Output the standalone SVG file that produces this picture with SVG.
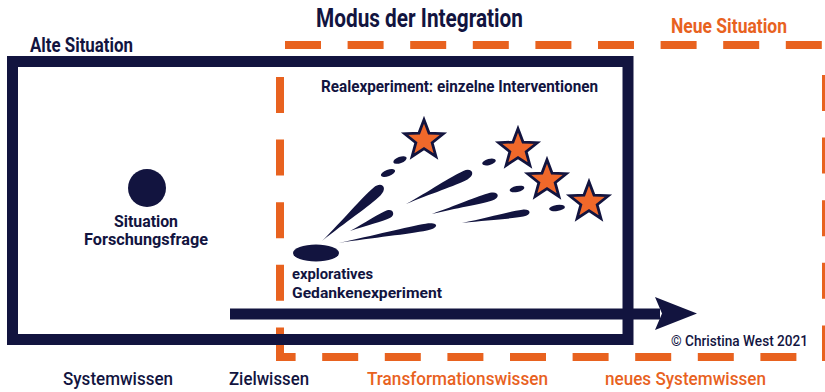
<svg xmlns="http://www.w3.org/2000/svg" width="825" height="392" viewBox="0 0 825 392">
  <style>
    .t { font-family: Roboto, "Liberation Sans", "DejaVu Sans", sans-serif; fill: #12143f; }
    .b { font-weight: 700; }
    .m { font-weight: 500; }
    .o { fill: #e8621f; }
    .dash { stroke: #e8621f; stroke-width: 8; fill: none; stroke-dasharray: 36 26.6; }
    .navy { fill: #12143f; }
    .star { fill: #f0682a; stroke: #12143f; stroke-width: 2.6; stroke-linejoin: miter; }
  </style>
  <defs>
    <path id="starShape" d="M0,-19 L4.7,-6.47 L18.07,-5.87 L7.61,2.47 L11.17,15.37 L0,8 L-11.17,15.37 L-7.61,2.47 L-18.07,-5.87 L-4.7,-6.47 Z"/>
    <path id="streak" d="M0,0 C35,-1.5 70,-5.5 88,-5 C101,-4.5 101,4.5 88,5 C70,5.5 35,1.5 0,0 Z"/>
  </defs>
  <rect width="825" height="392" fill="#ffffff"/>

  <g id="neue-situation-frame">
    <line class="dash" x1="285" y1="45" x2="830" y2="45"/>
    <line class="dash" x1="280" y1="77" x2="280" y2="361"/>
    <line class="dash" x1="276" y1="357" x2="830" y2="357" stroke-dashoffset="16.4"/>
    <line class="dash" x1="826" y1="75" x2="826" y2="361"/>
  </g>

  <g id="alte-situation-frame">
    <rect x="12.5" y="61.5" width="615.5" height="278" fill="none" stroke="#12143f" stroke-width="11"/>
  </g>

  <g id="connectors">
    <rect class="navy" x="230" y="308.5" width="430" height="11"/>
    <path class="navy" d="M655,297 L697,313.5 L655,330 L662,313.5 Z"/>
  </g>

  <g id="situation">
    <circle class="navy" cx="147" cy="188" r="19"/>
    <text class="t b" x="114" y="227" font-size="16.5" textLength="64" lengthAdjust="spacingAndGlyphs">Situation</text>
    <text class="t b" x="84" y="245" font-size="16.5" textLength="124" lengthAdjust="spacingAndGlyphs">Forschungsfrage</text>
  </g>

  <g id="gedankenexperiment">
    <ellipse class="navy" cx="316" cy="253" rx="23" ry="8.5"/>
    <text class="t b" x="292" y="279" font-size="15.5" textLength="81" lengthAdjust="spacingAndGlyphs">exploratives</text>
    <text class="t b" x="292" y="298" font-size="15.5" textLength="150" lengthAdjust="spacingAndGlyphs">Gedankenexperiment</text>
  </g>

  <g id="streaks" class="navy">
    <use href="#streak" transform="translate(322,241) rotate(-42) scale(0.84,1.05)"/>
    <use href="#streak" transform="translate(350,231) rotate(-23.7) scale(0.48,0.8)"/>
    <use href="#streak" transform="translate(338,243) rotate(-10.2) scale(1.02,0.7)"/>
    <use href="#streak" transform="translate(406,204) rotate(-25.9) scale(0.75,0.95)"/>
    <use href="#streak" transform="translate(432,214) rotate(-16.3) scale(0.7,0.8)"/>
    <use href="#streak" transform="translate(462,223) rotate(-9.2) scale(0.7,0.7)"/>
    <ellipse cx="388" cy="173" rx="7.5" ry="3.2" transform="rotate(-20 388 173)"/>
    <ellipse cx="400" cy="160" rx="7" ry="3.2" transform="rotate(-20 400 160)"/>
    <ellipse cx="489" cy="162" rx="7" ry="3" transform="rotate(-15 489 162)"/>
    <ellipse cx="517" cy="189" rx="7.5" ry="3" transform="rotate(-12 517 189)"/>
    <ellipse cx="557" cy="208" rx="8" ry="3" transform="rotate(-8 557 208)"/>
  </g>

  <g id="stars">
    <use href="#starShape" class="star" transform="translate(424,140) scale(1.07)"/>
    <use href="#starShape" class="star" transform="translate(518,149) scale(1.07)"/>
    <use href="#starShape" class="star" transform="translate(547,180) scale(1.07)"/>
    <use href="#starShape" class="star" transform="translate(589,202) scale(1.07)"/>
  </g>

  <g id="labels">
    <text class="t b" x="316" y="27" font-size="25" textLength="207" lengthAdjust="spacingAndGlyphs">Modus der Integration</text>
    <text class="t b" x="30" y="52" font-size="20.5" textLength="103" lengthAdjust="spacingAndGlyphs">Alte Situation</text>
    <text class="t b o" x="671" y="33" font-size="20.5" textLength="116" lengthAdjust="spacingAndGlyphs">Neue Situation</text>
    <text class="t b" x="321" y="92" font-size="16" textLength="277" lengthAdjust="spacingAndGlyphs">Realexperiment: einzelne Interventionen</text>
    <text class="t m" x="671" y="346" font-size="15" textLength="137" lengthAdjust="spacingAndGlyphs">© Christina West 2021</text>
    <text class="t m" x="63" y="385" font-size="18.5" textLength="110" lengthAdjust="spacingAndGlyphs">Systemwissen</text>
    <text class="t m" x="229" y="385" font-size="18.5" textLength="80" lengthAdjust="spacingAndGlyphs">Zielwissen</text>
    <text class="t m o" x="367" y="385" font-size="18.5" textLength="181" lengthAdjust="spacingAndGlyphs">Transformationswissen</text>
    <text class="t m o" x="605" y="385" font-size="18.5" textLength="161" lengthAdjust="spacingAndGlyphs">neues Systemwissen</text>
  </g>
</svg>
